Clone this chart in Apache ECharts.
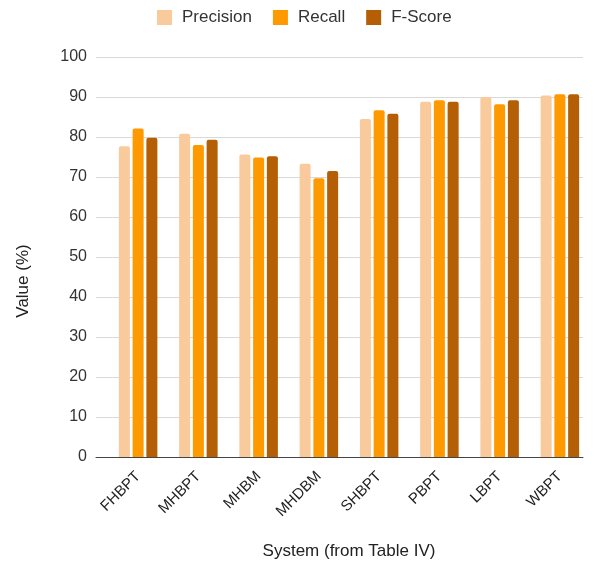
<!DOCTYPE html>
<html>
<head>
<meta charset="utf-8">
<script src="https://cdn.jsdelivr.net/npm/echarts@6/dist/echarts.min.js"></script>
<style>
html, body { margin: 0; padding: 0; background: #fff; }
#chart { width: 603px; height: 565px; }
</style>
</head>
<body>
<div id="chart"></div>
<script>
var systems = ['FHBPT', 'MHBPT', 'MHBM', 'MHDBM', 'SHBPT', 'PBPT', 'LBPT', 'WBPT'];
var precision = [77.7, 80.8, 75.6, 73.3, 84.5, 88.8, 90.0, 90.4];
var recall = [82.1, 78.0, 74.9, 69.7, 86.7, 89.2, 88.2, 90.7];
var fscore = [79.8, 79.3, 75.2, 71.5, 85.8, 88.8, 89.2, 90.7];
var yTicks = [0, 10, 20, 30, 40, 50, 60, 70, 80, 90, 100];

var font = 'Liberation Sans, Arial, sans-serif';

function barSeries(name, data) {
	return {
		name: name,
		type: 'bar',
		xAxisIndex: 1,
		yAxisIndex: 1,
		data: data,
		barWidth: 11,
		barGap: '25%',
		z: 3,
		itemStyle: { borderRadius: [2, 2, 0, 0] }
	};
}

var option = {
	animation: false,
	color: ['#f9cb9c', '#ff9900', '#b45f06'],
	textStyle: { fontFamily: font },
	legend: {
		left: 157,
		top: 9,
		padding: 0,
		itemWidth: 15,
		itemHeight: 15,
		itemGap: 21,
		icon: 'rect',
		textStyle: { fontSize: 17, color: '#333', padding: [0, 0, 0, 5] },
		data: ['Precision', 'Recall', 'F-Score']
	},
	grid: [
		{ left: 96, right: 20, top: 57, bottom: 108 }, // 网格线
		{ left: 108, right: 13, top: 57, bottom: 108 } // 柱子
	],
	xAxis: [{
		gridIndex: 0,
		type: 'value',
		min: 0,
		max: 1,
		axisLine: { show: true, lineStyle: { color: '#444', width: 1 } },
		axisTick: { show: false },
		axisLabel: { show: false },
		splitLine: { show: false }
	}, {
		gridIndex: 1,
		type: 'category',
		data: systems,
		name: 'System (from Table IV)',
		nameLocation: 'middle',
		nameGap: 86,
		nameTextStyle: { fontSize: 17, color: '#222' },
		axisLine: { show: false },
		axisTick: { show: false },
		axisLabel: { rotate: 45, fontSize: 15, color: '#222', margin: 17, padding: [22, 0, 0, 0], interval: 0 }
	}],
	yAxis: [{
		gridIndex: 0,
		type: 'value',
		min: yTicks[0],
		max: yTicks[yTicks.length - 1],
		interval: 10,
		name: 'Value (%)',
		nameLocation: 'middle',
		nameGap: 64,
		nameTextStyle: { fontSize: 17, color: '#222', padding: [0, 48, 0, 0] },
		axisLine: { show: false },
		axisTick: { show: false },
		axisLabel: { fontSize: 16, color: '#333', margin: 9 },
		splitLine: { lineStyle: { color: '#d9d9d9', width: 1 } }
	}, {
		gridIndex: 1,
		type: 'value',
		min: 0,
		max: 100,
		show: false
	}],
	series: [
		barSeries('Precision', precision),
		barSeries('Recall', recall),
		barSeries('F-Score', fscore)
	]
};

var myChart = echarts.init(document.getElementById('chart'));
myChart.setOption(option);
</script>
</body>
</html>
